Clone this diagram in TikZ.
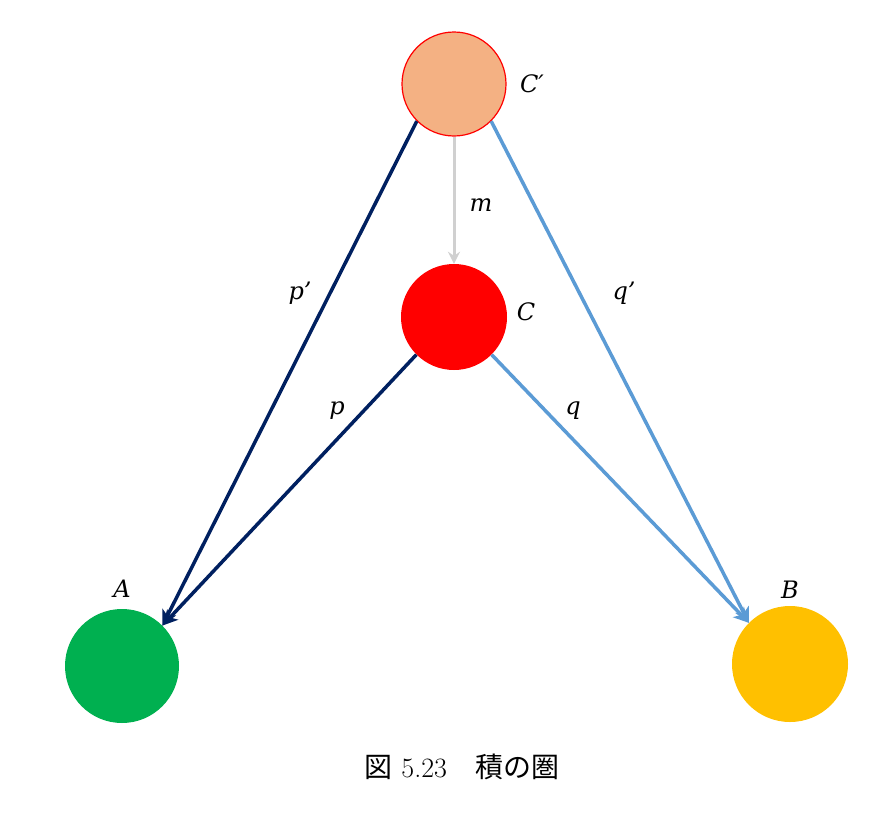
\documentclass[tikz,border=0pt]{standalone}
\usepackage{fontspec}
\newfontfamily\cjk{Noto Sans CJK JP}
\newfontfamily\lblfont{DejaVu Serif}
\usetikzlibrary{arrows.meta}
\definecolor{cprime}{HTML}{F4B183}
\definecolor{cred}{HTML}{FF0000}
\definecolor{cgreen}{HTML}{00B050}
\definecolor{cyellow}{HTML}{FFC000}
\definecolor{dblue}{HTML}{002060}
\definecolor{lblue}{HTML}{5B9BD5}
\definecolor{lgray}{HTML}{D0D0D0}
\begin{document}
\begin{tikzpicture}[x=1pt,y=-1pt,
  obj/.style={circle,inner sep=0pt},
  lbl/.style={font=\fontsize{24}{27}\selectfont\lblfont\itshape,inner sep=0pt},
  darrow/.style={draw=dblue,line width=3.5pt,-{Stealth[length=15pt,width=15pt,inset=4pt]}},
  larrow/.style={draw=lblue,line width=3.5pt,-{Stealth[length=15pt,width=15pt,inset=4pt]}},
  garrow/.style={draw=lgray,line width=3pt,-{Stealth[length=12pt,width=12pt,inset=4pt]}}]
\useasboundingbox (0,0) rectangle (895,822);
\fill[white] (0,0) rectangle (895,822);
\node[obj,fill=cprime,draw=cred,line width=1.2pt,minimum size=104pt] (Cp) at (454,84) {};
\node[obj,fill=cred,minimum size=106pt] (C) at (454,317) {};
\node[obj,fill=cgreen,minimum size=114pt] (A) at (122,666) {};
\node[obj,fill=cyellow,minimum size=116pt] (B) at (790,664) {};
\node[lbl] (lCp) at (532,84) {C′};
\node[lbl] (lC) at (526,312) {C};
\node[lbl] (lA) at (122,589) {A};
\node[lbl] (lB) at (790,590) {B};
\draw[garrow] (Cp) -- (C);
\draw[darrow] (Cp.south west) -- (A.north east);
\draw[darrow] (C.south west) -- (A.north east);
\draw[larrow] (Cp.south east) -- (B.north west);
\draw[larrow] (C.south east) -- (B.north west);
\node[lbl] (lm) at (481,205) {m};
\node[lbl] (lpp) at (300,293) {p’};
\node[lbl] (lp) at (337,411) {p};
\node[lbl] (lqp) at (624,293) {q’};
\node[lbl] (lq) at (573,411) {q};
\node[font=\fontsize{28}{31}\selectfont] (cap) at (462,767) {{\cjk 図} 5.23\quad{\cjk 積の圏}};
\end{tikzpicture}
\end{document}
